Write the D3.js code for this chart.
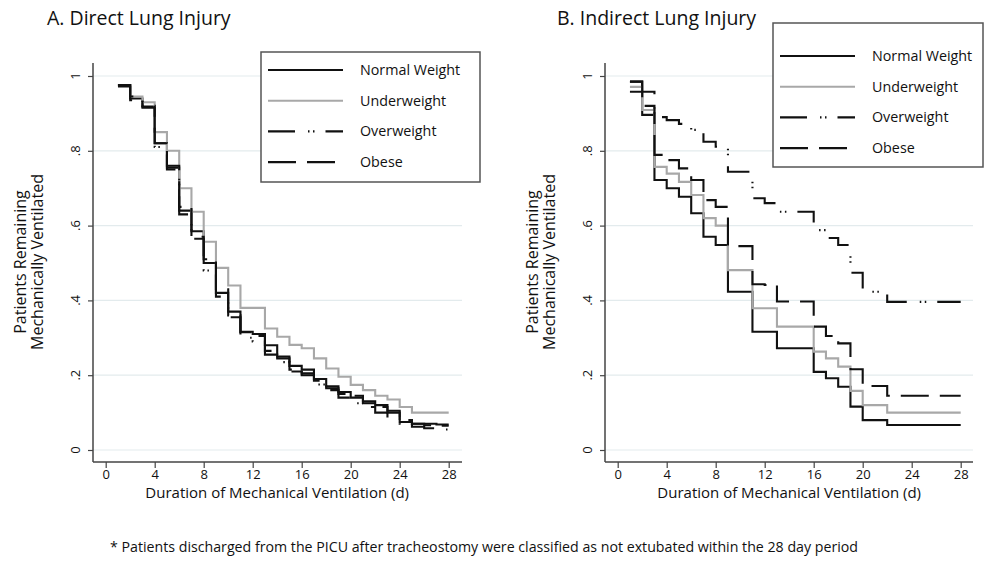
<!DOCTYPE html>
<html>
<head>
<meta charset="utf-8">
<script src="https://cdn.jsdelivr.net/npm/d3@7"></script>
<style>
body{margin:0;background:#fff;}
svg{display:block;font-family:"Open Sans",sans-serif;}
</style>
</head>
<body>
<svg></svg>
<script>
// days 1..28, value = proportion still ventilated from that day on
var days = d3.range(1, 29)
var xTicks = [0, 4, 8, 12, 16, 20, 24, 28]
var yTicks = [0, 0.2, 0.4, 0.6, 0.8, 1]
var yTickLabels = ["0", ".2", ".4", ".6", ".8", "1"]
var groups = ["Normal Weight", "Underweight", "Overweight", "Obese"]

var directNormal = [.976,.94,.918,.82,.755,.64,.585,.50,.42,.37,.316,.31,.28,.25,.225,.215,.19,.17,.155,.14,.13,.12,.105,.075,.07,.07,.068,.068]
var directUnder  = [.976,.945,.93,.85,.80,.70,.637,.557,.487,.44,.38,.38,.325,.303,.281,.272,.245,.218,.196,.174,.16,.145,.135,.115,.10,.10,.10,.10]
var directOver   = [.976,.945,.92,.81,.75,.63,.565,.48,.41,.355,.30,.29,.255,.235,.21,.20,.175,.16,.14,.125,.115,.10,.085,.07,.062,.058,.055,.055]
var directObese  = [.972,.935,.915,.82,.76,.65,.57,.51,.43,.36,.315,.305,.265,.245,.215,.205,.185,.165,.15,.145,.125,.115,.10,.08,.07,.066,.065,.065]

var indirectNormal = [.985,.896,.722,.70,.677,.633,.57,.548,.423,.423,.316,.316,.272,.272,.272,.209,.192,.169,.116,.08,.08,.067,.067,.067,.067,.067,.067,.067]
var indirectUnder  = [.971,.909,.757,.739,.717,.682,.62,.60,.481,.481,.379,.379,.33,.33,.33,.263,.245,.223,.158,.12,.12,.10,.10,.10,.10,.10,.10,.10]
var indirectOver   = [.958,.958,.89,.882,.872,.856,.824,.811,.744,.744,.673,.66,.637,.637,.637,.588,.567,.548,.474,.423,.423,.396,.396,.396,.396,.396,.396,.396]
var indirectObese  = [.985,.92,.789,.775,.753,.722,.668,.65,.545,.545,.443,.441,.397,.397,.397,.33,.305,.285,.216,.171,.171,.145,.145,.145,.145,.145,.145,.145]

var styles = [
    {color:"#111", dash:null},
    {color:"#a8a8a8", dash:null},
    {color:"#111", dash:"27,13,1.5,3.5,1.5,11"},
    {color:"#111", dash:"28,11"}
]

var svg = d3.select("svg").attr("width", 986).attr("height", 572)

var drawPanel = function(p)
{
    var g = svg.append("g")
    var xScale = d3.scaleLinear().domain([0, 28]).range([p.left + 12.7, p.left + 355.7])
    var yScale = d3.scaleLinear().domain([0, 1]).range([450, 76])

    // grid
    g.selectAll(".grid").data(yTicks).enter().append("line")
        .attr("x1", p.left).attr("x2", p.right)
        .attr("y1", function(d){ return yScale(d) })
        .attr("y2", function(d){ return yScale(d) })
        .attr("stroke", "#e3ebed").attr("stroke-width", 1.2)

    // axes
    var xAxis = d3.axisBottom(xScale).tickValues(xTicks).tickSize(6).tickPadding(2)
    var yAxis = d3.axisLeft(yScale).tickValues(yTicks).tickSize(5).tickFormat("")
    var xg = g.append("g").attr("transform", "translate(0,462)").call(xAxis)
    xg.select(".domain").remove()
    xg.append("line").attr("x1", p.left).attr("x2", p.right).attr("stroke", "#444").attr("stroke-width", 1.5)
    xg.selectAll(".tick line").attr("stroke", "#444").attr("stroke-width", 1.2)
    xg.selectAll("text").attr("font-size", 13).attr("fill", "#111").attr("font-family", "Open Sans")

    var yg = g.append("g").attr("transform", "translate(" + p.left + ",0)").call(yAxis)
    yg.select(".domain").remove()
    yg.append("line").attr("y1", 63).attr("y2", 462).attr("stroke", "#444").attr("stroke-width", 1.5)
    yg.selectAll(".tick line").attr("stroke", "#444").attr("stroke-width", 1.2)

    g.selectAll(".ylab").data(yTicks).enter().append("text")
        .attr("transform", function(d){ return "translate(" + (p.left - 13) + "," + yScale(d) + ") rotate(-90)" })
        .attr("text-anchor", "middle").attr("font-size", 13).attr("fill", "#111")
        .text(function(d, i){ return yTickLabels[i] })

    // curves
    var line = d3.line()
        .x(function(d, i){ return xScale(days[i]) })
        .y(function(d){ return yScale(d) })
        .curve(d3.curveStepAfter)

    g.selectAll(".curve").data(p.series).enter().append("path")
        .attr("d", function(d){ return line(d) })
        .attr("fill", "none")
        .attr("stroke", function(d, i){ return styles[i].color })
        .attr("stroke-dasharray", function(d, i){ return styles[i].dash })
        .attr("stroke-width", 2.1)

    // legend
    var lg = g.append("g")
    lg.append("rect")
        .attr("x", p.legend.x).attr("y", p.legend.y)
        .attr("width", p.legend.w).attr("height", p.legend.h)
        .attr("fill", "#fff").attr("stroke", "#555").attr("stroke-width", 1.5)
    var rows = lg.selectAll(".row").data(groups).enter().append("g")
        .attr("transform", function(d, i){ return "translate(" + (p.legend.x + 7) + "," + (p.legend.first + i * 30.7) + ")" })
    rows.append("line").attr("x1", 0).attr("x2", 75)
        .attr("stroke", function(d, i){ return styles[i].color })
        .attr("stroke-dasharray", function(d, i){ return styles[i].dash })
        .attr("stroke-width", 2.1)
    rows.append("text").attr("x", 92).attr("dy", "0.35em")
        .attr("font-size", 14.3).attr("fill", "#111")
        .text(function(d){ return d })

    // labels
    g.append("text").attr("x", p.titleX).attr("y", 25)
        .attr("font-size", 19.5).attr("fill", "#111").text(p.title)
    g.append("text").attr("x", xScale(14)).attr("y", 498)
        .attr("text-anchor", "middle").attr("font-size", 15).attr("fill", "#111")
        .text("Duration of Mechanical Ventilation (d)")
    var yl = g.append("text").attr("transform", "translate(" + (p.left - 67) + ",262) rotate(-90)")
        .attr("text-anchor", "middle").attr("font-size", 16).attr("fill", "#111")
    yl.append("tspan").attr("x", 0).attr("y", 0).text("Patients Remaining")
    yl.append("tspan").attr("x", 0).attr("y", 17).text("Mechanically Ventilated")
}

drawPanel({
    left: 93, right: 462, title: "A. Direct Lung Injury", titleX: 47,
    series: [directNormal, directUnder, directOver, directObese],
    legend: {x: 261, y: 52, w: 219, h: 130, first: 70}
})
drawPanel({
    left: 605, right: 973, title: "B. Indirect Lung Injury", titleX: 557,
    series: [indirectNormal, indirectUnder, indirectOver, indirectObese],
    legend: {x: 773, y: 23, w: 210, h: 144, first: 56}
})

svg.append("text").attr("x", 484).attr("y", 552)
    .attr("text-anchor", "middle").attr("font-size", 14.2).attr("fill", "#111")
    .text("* Patients discharged from the PICU after tracheostomy were classified as not extubated within the 28 day period")
</script>
</body>
</html>
